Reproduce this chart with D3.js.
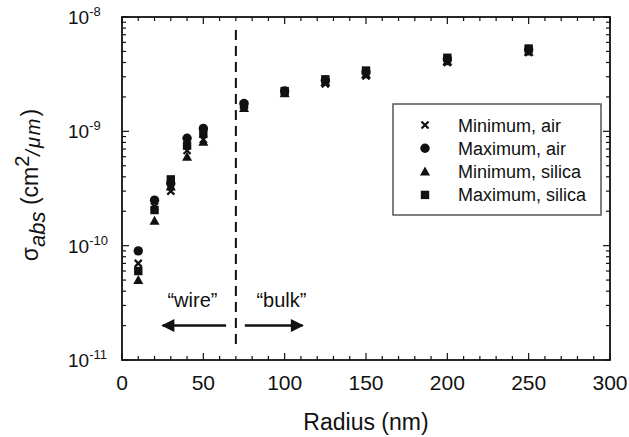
<!DOCTYPE html>
<html>
<head>
<meta charset="utf-8">
<script src="https://cdn.jsdelivr.net/npm/d3@7"></script>
<style>
  body { margin: 0; background: #fff; }
  text { font-family: "Liberation Sans", Arial, sans-serif; fill: #111; }
</style>
</head>
<body>
<div id="chart"></div>
<script>
// radius values (nm)
var radius = [10, 20, 30, 40, 50, 75, 100, 125, 150, 200, 250];

// absorption cross sections (cm^2/um)
var minAir    = [7.0e-11, 2.2e-10, 3.0e-10, 6.8e-10, 8.5e-10, 1.6e-9, 2.2e-9, 2.6e-9, 3.05e-9, 4.0e-9, 4.9e-9];
var maxAir    = [9.0e-11, 2.5e-10, 3.5e-10, 8.7e-10, 1.06e-9, 1.75e-9, 2.25e-9, 2.8e-9, 3.3e-9, 4.3e-9, 5.2e-9];
var minSilica = [5.0e-11, 1.65e-10, 3.3e-10, 6.0e-10, 8.1e-10, 1.6e-9, 2.15e-9, 2.7e-9, 3.15e-9, 4.1e-9, 5.0e-9];
var maxSilica = [6.0e-11, 2.05e-10, 3.8e-10, 7.5e-10, 9.5e-10, 1.7e-9, 2.25e-9, 2.85e-9, 3.4e-9, 4.4e-9, 5.3e-9];

var seriesNames = ["Minimum, air", "Maximum, air", "Minimum, silica", "Maximum, silica"];
var seriesSymbols = ["x", "circle", "triangle", "square"];

var xTicks = [0, 50, 100, 150, 200, 250, 300];
var yTicks = [1e-11, 1e-10, 1e-9, 1e-8];

// dashed divider and annotation arrows
var dividerX = 70;
var arrowY = 2.0e-11;

// set the dimensions and margins of the graph
var margin = {top: 17, right: 19, bottom: 77, left: 122},
    width = 629 - margin.left - margin.right,
    height = 437 - margin.top - margin.bottom;

var svg = d3.select("#chart")
  .append("svg")
    .attr("width", 629)
    .attr("height", 437)
  .append("g")
    .attr("transform", "translate(" + margin.left + "," + margin.top + ")");

var x = d3.scaleLinear().domain([0, 300]).range([0, width]);
var y = d3.scaleLog().domain([1e-11, 1e-8]).range([height, 0]);

// minor ticks
var xMinor = d3.range(0, 301, 10);
var yMinor = [];
[-11, -10, -9].forEach(function(e) {
  for (var k = 1; k < 10; k++) yMinor.push(k * Math.pow(10, e));
});
yMinor.push(1e-8);

var tickG = svg.append("g").attr("stroke", "#111").attr("stroke-width", 1.2);
xMinor.forEach(function(v) {
  var len = (v % 50 === 0) ? 7 : 4;
  tickG.append("line").attr("x1", x(v)).attr("x2", x(v)).attr("y1", height).attr("y2", height - len);
  tickG.append("line").attr("x1", x(v)).attr("x2", x(v)).attr("y1", 0).attr("y2", len);
});
yMinor.forEach(function(v) {
  var major = yTicks.indexOf(v) >= 0;
  var len = major ? 7 : 4;
  tickG.append("line").attr("x1", 0).attr("x2", len).attr("y1", y(v)).attr("y2", y(v));
  tickG.append("line").attr("x1", width).attr("x2", width - len).attr("y1", y(v)).attr("y2", y(v));
});

// frame
svg.append("rect")
  .attr("width", width).attr("height", height)
  .attr("fill", "none").attr("stroke", "#111").attr("stroke-width", 1.8);

// x tick labels
svg.selectAll(".xl")
  .data(xTicks)
  .enter().append("text")
    .attr("x", function(d) { return x(d); })
    .attr("y", height + 30)
    .attr("text-anchor", "middle")
    .attr("font-size", 21)
    .text(function(d) { return d; });

// y tick labels (10^n)
var yl = svg.selectAll(".yl")
  .data(yTicks)
  .enter().append("text")
    .attr("x", -54)
    .attr("y", function(d) { return y(d) + 7; })
    .attr("font-size", 19);
yl.append("tspan").text("10");
yl.append("tspan")
  .attr("font-size", 13)
  .attr("dy", -8)
  .text(function(d) { return Math.round(Math.log10(d)); });

// axis titles
svg.append("text")
  .attr("x", width / 2)
  .attr("y", height + 70)
  .attr("text-anchor", "middle")
  .attr("font-size", 23)
  .text("Radius (nm)");

var yt = svg.append("text")
  .attr("transform", "translate(" + (-84) + "," + 168 + ") rotate(-90)")
  .attr("text-anchor", "middle")
  .attr("font-size", 23);
yt.append("tspan").text("σ");
yt.append("tspan").attr("font-size", 22).attr("font-style", "italic").attr("dy", 7).text("abs");
yt.append("tspan").attr("dy", -7).text(" (cm");
yt.append("tspan").attr("font-size", 20).attr("dy", -9).text("2");
yt.append("tspan").attr("font-size", 20).attr("font-style", "italic").attr("letter-spacing", 2).attr("dy", 11).text("/μm");
yt.append("tspan").attr("dy", -2).text(")");

// dashed divider
svg.append("line")
  .attr("x1", x(dividerX)).attr("x2", x(dividerX))
  .attr("y1", 13).attr("y2", height - 12)
  .attr("stroke", "#111").attr("stroke-width", 2)
  .attr("stroke-dasharray", "10,6");

// arrows
var defs = svg.append("defs");
defs.append("marker")
  .attr("id", "ah")
  .attr("viewBox", "0 0 10 10")
  .attr("refX", 9).attr("refY", 5)
  .attr("markerWidth", 6).attr("markerHeight", 5.2)
  .attr("markerUnits", "strokeWidth")
  .attr("orient", "auto")
  .append("path").attr("d", "M0,0 L10,5 L0,10 Z").attr("fill", "#111");

var arrows = [[64, 25], [75.5, 111]];
arrows.forEach(function(a) {
  svg.append("line")
    .attr("x1", x(a[0])).attr("x2", x(a[1]))
    .attr("y1", y(arrowY)).attr("y2", y(arrowY))
    .attr("stroke", "#111").attr("stroke-width", 2.5)
    .attr("marker-end", "url(#ah)");
});
svg.append("text")
  .attr("x", x(43.3)).attr("y", y(arrowY) - 19)
  .attr("text-anchor", "middle").attr("font-size", 20)
  .text("\u201cwire\u201d");
svg.append("text")
  .attr("x", x(98)).attr("y", y(arrowY) - 19)
  .attr("text-anchor", "middle").attr("font-size", 20)
  .text("\u201cbulk\u201d");

// symbol drawing
function drawSymbol(g, type, cx, cy) {
  if (type === "x") {
    var s = 3.5;
    g.append("path")
      .attr("d", "M" + (cx - s) + "," + (cy - s) + "L" + (cx + s) + "," + (cy + s) +
                 "M" + (cx - s) + "," + (cy + s) + "L" + (cx + s) + "," + (cy - s))
      .attr("stroke", "#111").attr("stroke-width", 2.2).attr("fill", "none");
  } else if (type === "circle") {
    g.append("circle").attr("cx", cx).attr("cy", cy).attr("r", 4.7).attr("fill", "#111");
  } else if (type === "triangle") {
    g.append("path")
      .attr("d", "M" + cx + "," + (cy - 5) + "L" + (cx + 5) + "," + (cy + 4) + "L" + (cx - 5) + "," + (cy + 4) + "Z")
      .attr("fill", "#111");
  } else {
    g.append("rect").attr("x", cx - 4.2).attr("y", cy - 4.2).attr("width", 8.4).attr("height", 8.4).attr("fill", "#111");
  }
}

var allSeries = [minAir, maxAir, minSilica, maxSilica];
var pts = svg.append("g");
allSeries.forEach(function(vals, i) {
  vals.forEach(function(v, j) {
    drawSymbol(pts, seriesSymbols[i], x(radius[j]), y(v));
  });
});

// legend
var leg = svg.append("g").attr("transform", "translate(" + (393 - margin.left) + "," + (104 - margin.top) + ")");
leg.append("rect")
  .attr("width", 208).attr("height", 111)
  .attr("fill", "#fff").attr("stroke", "#555").attr("stroke-width", 1.5);
seriesNames.forEach(function(name, i) {
  var cy = 21 + i * 23.3;
  drawSymbol(leg, seriesSymbols[i], 32, cy);
  leg.append("text")
    .attr("x", 65).attr("y", cy + 6.5)
    .attr("font-size", 18)
    .text(name);
});
</script>
</body>
</html>
